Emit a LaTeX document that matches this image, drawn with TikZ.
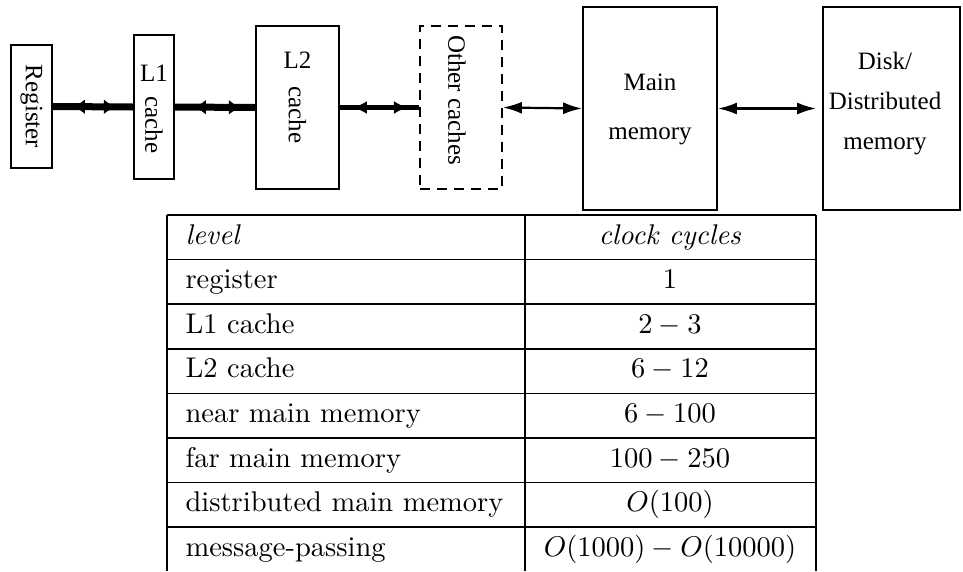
\documentclass[tikz,border=0pt]{standalone}
\usepackage{fontspec}
\newfontfamily\tms{Liberation Serif}
\usetikzlibrary{arrows.meta,decorations.markings}
\begin{document}
\begin{tikzpicture}[x=1pt,y=-1pt,
  box/.style={draw,line width=1.8pt,inner sep=0pt},
  lbl/.style={font=\tms\fontsize{25}{28}\selectfont,inner sep=0pt},
  tbl/.style={font=\fontsize{10}{12}\selectfont,scale=2.85,transform shape,inner sep=0pt,anchor=base},
  tline/.style={line width=1.6pt},
  thin/.style={line width=2.2pt},
  bigtip/.style={Latex[length=13pt,width=15pt]},
]
\useasboundingbox (0,0) rectangle (963,571);
% boxes
\node[box,minimum width=41pt,minimum height=123pt] (reg) at (31.5,106.5) {};
\node[box,minimum width=40pt,minimum height=144pt] (l1) at (154,107) {};
\node[box,minimum width=83pt,minimum height=163pt] (l2) at (297.5,107.5) {};
\node[box,dash pattern=on 10pt off 7pt,minimum width=82pt,minimum height=163pt] (oth) at (461,107.5) {};
\node[box,minimum width=134pt,minimum height=203pt] (main) at (650,108.5) {};
\node[box,minimum width=137pt,minimum height=203pt] (disk) at (891.5,108.5) {};
% texts
\node[lbl,rotate=-90] (treg) at (reg.center) {Register};
\node[lbl] (tl1) at (154,73) {L1};
\node[lbl,rotate=-90] (tl1c) at (154,125) {cache};
\node[lbl] (tl2) at (297.5,60) {L2};
\node[lbl,rotate=-90] (tl2c) at (297.5,115) {cache};
\node[lbl,rotate=-90] (toth) at (457,100) {Other caches};
\node[lbl,align=center,font=\tms\fontsize{25}{49}\selectfont] (tmain) at (650,109) {Main\\memory};
\node[lbl,align=center,font=\tms\fontsize{25}{40}\selectfont] (tdisk) at (885,104) {Disk/\\Distributed\\memory};
% connectors
\draw[line width=7pt,postaction={decorate},decoration={markings,
  mark=at position 20pt with {\arrowreversed{Latex[length=12pt,width=15pt]}},
  mark=at position 63pt with {\arrow{Latex[length=12pt,width=15pt]}}}]
  (reg.east) -- (l1.west);
\draw[line width=7pt,postaction={decorate},decoration={markings,
  mark=at position 19pt with {\arrowreversed{Latex[length=12pt,width=15pt]}},
  mark=at position 66pt with {\arrow{Latex[length=12pt,width=15pt]}}}]
  (l1.east) -- (l2.west);
\draw[line width=4.5pt,postaction={decorate},decoration={markings,
  mark=at position 13pt with {\arrowreversed{Latex[length=14pt,width=13pt]}},
  mark=at position 68pt with {\arrow{Latex[length=14pt,width=13pt]}}}]
  (l2.east) -- (oth.west);
\draw[thin,{Latex[length=19pt,width=12pt]}-{Latex[length=19pt,width=12pt]}] (oth.east) -- (main.west);
\draw[thin,{Latex[length=19pt,width=12pt]}-{Latex[length=19pt,width=12pt]},shorten >=6pt] (main.east) -- (disk.west);
% table
\foreach \i in {0,...,7} \draw[tline] (167,215+44.6*\i) -- (816,215+44.6*\i);
\draw[tline] (167,215) -- (167,571);
\draw[tline] (525,215) -- (525,571);
\draw[tline] (816,215) -- (816,571);
\node[tbl,anchor=base west] (h1) at (185,244) {\textit{level}};
\node[tbl] (h2) at (670,244) {\textit{clock cycles}};
\node[tbl,anchor=base west] (r1) at (185,288.6) {register};
\node[tbl] (v1) at (670,288.6) {$1$};
\node[tbl,anchor=base west] (r2) at (185,333.2) {L1 cache};
\node[tbl] (v2) at (670,333.2) {$2-3$};
\node[tbl,anchor=base west] (r3) at (185,377.8) {L2 cache};
\node[tbl] (v3) at (670,377.8) {$6-12$};
\node[tbl,anchor=base west] (r4) at (185,422.4) {near main memory};
\node[tbl] (v4) at (670,422.4) {$6-100$};
\node[tbl,anchor=base west] (r5) at (185,467) {far main memory};
\node[tbl] (v5) at (670,467) {$100-250$};
\node[tbl,anchor=base west] (r6) at (185,511.6) {distributed main memory};
\node[tbl] (v6) at (670,511.6) {$O(100)$};
\node[tbl,anchor=base west] (r7) at (185,556.2) {message-passing};
\node[tbl] (v7) at (670,556.2) {$O(1000)-O(10000)$};
\end{tikzpicture}
\end{document}
